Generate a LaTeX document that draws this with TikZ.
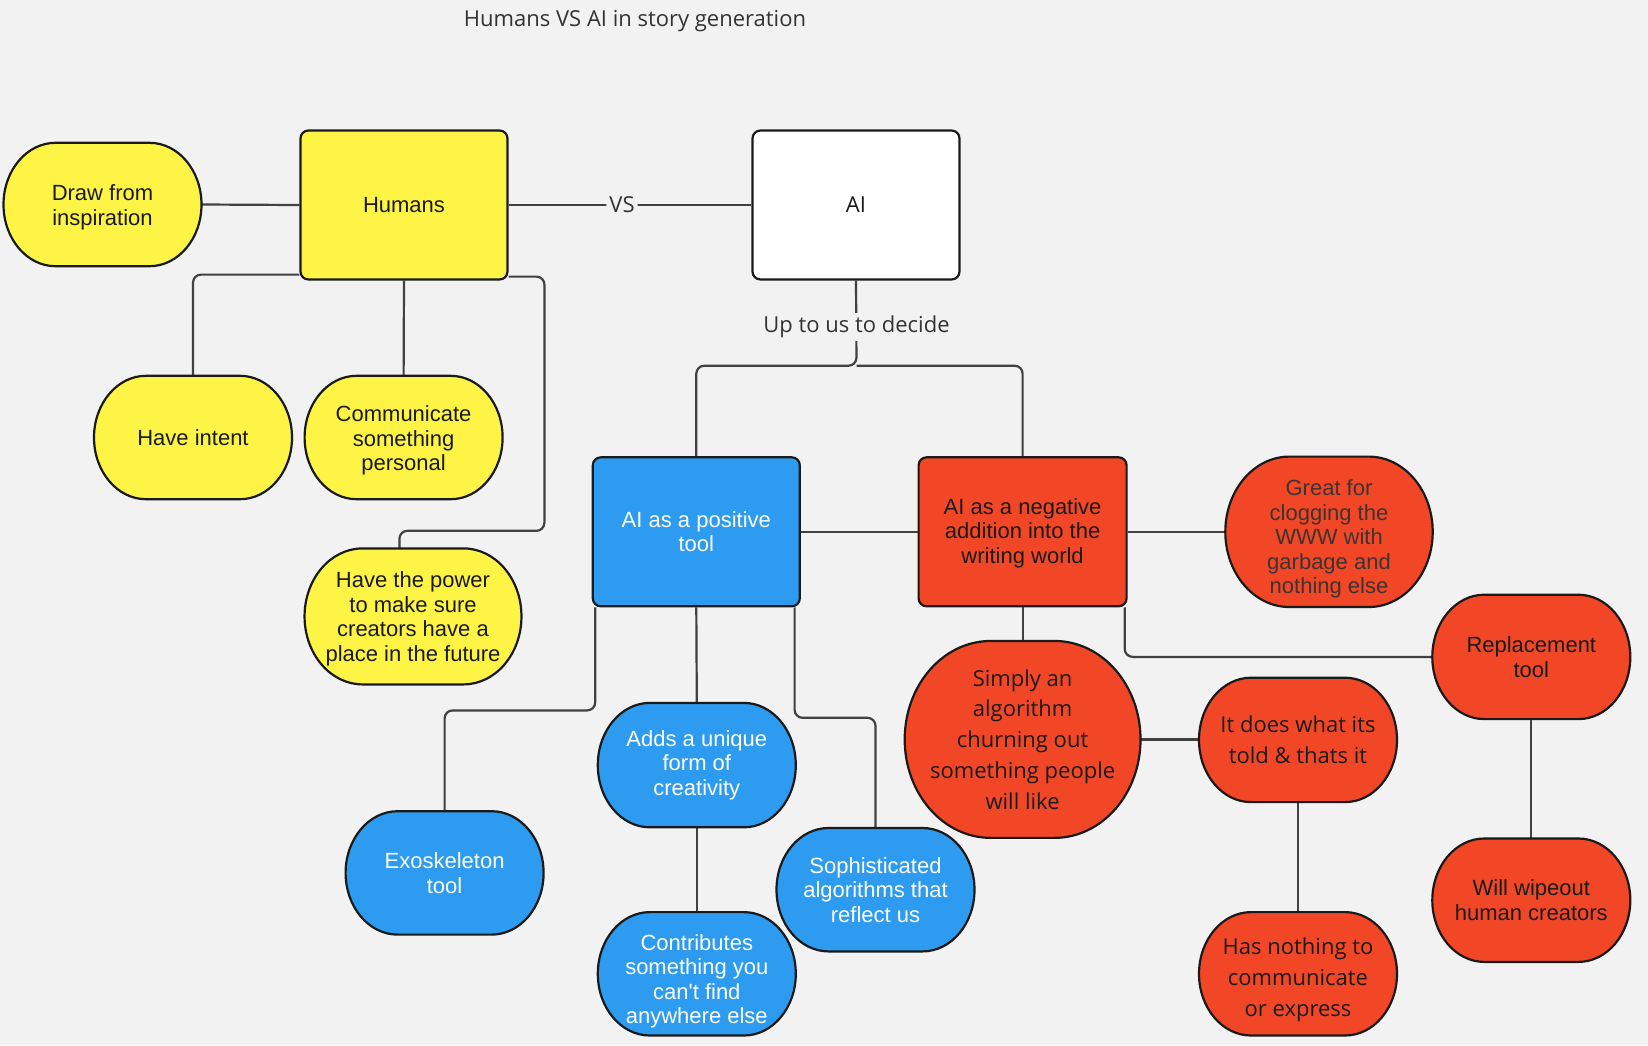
\documentclass[tikz,border=0pt]{standalone}
\usepackage{fontspec}
\newfontfamily\arialf{Liberation Sans}
\newfontfamily\osf{Open Sans}
\usetikzlibrary{calc}
\pgfdeclarelayer{bglayer}
\pgfdeclarelayer{lines}
\pgfdeclarelayer{shapes}
\pgfsetlayers{bglayer,lines,shapes,main}
\definecolor{bgc}{HTML}{F2F2F2}
\definecolor{yel}{HTML}{FEF445}
\definecolor{blu}{HTML}{2D9BF0}
\definecolor{redn}{HTML}{F24726}
\definecolor{edgec}{HTML}{1A1A1A}
\definecolor{wirec}{HTML}{414141}
\definecolor{txtc}{HTML}{333333}
\definecolor{greytxt}{HTML}{3D3331}
% oval with half-elliptic ends: #1 node, #2 fill, #3 x radius of the ends
\newcommand\ovalshape[3]{%
\begin{pgfonlayer}{shapes}
\filldraw[fill=#2, draw=edgec, line width=2.2pt]
 ($(#1.north west)+(#3,0)$) -- ($(#1.north east)+(-#3,0)$)
 .. controls ($(#1.north east)+(-0.4477*#3,0)$) and ($(#1.east)!0.5523!(#1.north east)$) .. (#1.east)
 .. controls ($(#1.east)!0.5523!(#1.south east)$) and ($(#1.south east)+(-0.4477*#3,0)$) .. ($(#1.south east)+(-#3,0)$)
 -- ($(#1.south west)+(#3,0)$)
 .. controls ($(#1.south west)+(0.4477*#3,0)$) and ($(#1.west)!0.5523!(#1.south west)$) .. (#1.west)
 .. controls ($(#1.west)!0.5523!(#1.north west)$) and ($(#1.north west)+(0.4477*#3,0)$) .. ($(#1.north west)+(#3,0)$)
 -- cycle;
\end{pgfonlayer}}
\begin{document}
\begin{tikzpicture}[x=1pt,y=-1pt,
  base/.style={align=center, inner sep=0pt,
    font=\arialf\fontsize{22}{24.5}\selectfont, text=edgec},
  boxn/.style={base, draw=edgec, line width=2.2pt, rectangle, rounded corners=8pt, minimum width=207pt, minimum height=149pt},
  pill/.style={base, rectangle, minimum width=197.6pt, minimum height=123pt},
  bluf/.style={fill=blu, text=white},
  osn/.style={font=\osf\fontsize{22}{30.7}\selectfont},
  wire/.style={draw=wirec, line width=2.2pt, rounded corners=8pt},
  lbl/.style={fill=bgc, inner sep=3pt, font=\osf\fontsize{22}{26}\selectfont, text=txtc}
]
\useasboundingbox (0,0) rectangle (1648,1045);
\begin{pgfonlayer}{bglayer}
\fill[bgc] (0,0) rectangle (1648,1045);
\end{pgfonlayer}

% title
\node[font=\osf\fontsize{22}{26}\selectfont, text=txtc] (title) at (635,21) {Humans VS AI in story generation};

% humans side
\node[boxn, fill=yel] (hum) at (404,205) {Humans};
\node[boxn, fill=white, osn] (ai) at (856,205) {AI};
\node[pill] (draw) at (102.5,204.5) {\rule{0pt}{22pt}Draw from\\inspiration};
\node[pill] (intent) at (193,437.5) {Have intent};
\node[pill] (comm) at (403.6,437.5) {\rule{0pt}{22pt}Communicate\\something\\personal};
\node[pill, minimum width=216.5pt, minimum height=135.6pt] (power) at (413,616.4) {\rule{0pt}{20.5pt}Have the power\\to make sure\\creators have a\\place in the future};

% AI branches
\node[boxn, bluf] (pos) at (696.3,531.8) {AI as a positive\\tool};
\node[boxn, fill=redn, minimum width=208pt] (neg) at (1022.6,531.8) {\rule{0pt}{18pt}AI as a negative\\addition into the\\writing world};
\node[pill, minimum width=207pt, minimum height=150pt, text=greytxt] (great) at (1329,531.8) {\rule{0pt}{30pt}Great for\\clogging the\\WWW with\\garbage and\\nothing else};
\node[pill, minimum height=124pt] (rep) at (1531.3,656.9) {Replacement\\tool};
\node[pill] (wipe) at (1531.3,900.2) {Will wipeout\\human creators};
\node[pill, osn, minimum width=235.4pt, minimum height=196.5pt] (simply) at (1022.6,739.4) {Simply an\\algorithm\\churning out\\something people\\will like};
\node[pill, osn, minimum height=124pt] (does) at (1298,739.9) {It does what its\\told \& thats it};
\node[pill, osn] (nothing) at (1298,973.8) {\rule{0pt}{28.5pt}Has nothing to\\communicate\\or express};

\node[pill, text=white] (exo) at (444.6,872.9) {Exoskeleton\\tool};
\node[pill, text=white, minimum height=124pt] (adds) at (696.8,765.1) {Adds a unique\\form of\\creativity};
\node[pill, text=white] (contrib) at (696.8,973.8) {\rule{0pt}{31pt}Contributes\\something you\\can't find\\anywhere else};
\node[pill, text=white] (soph) at (875.5,889.7) {Sophisticated\\algorithms that\\reflect us};

% oval outlines
\ovalshape{draw}{yel}{52}
\ovalshape{intent}{yel}{52}
\ovalshape{comm}{yel}{52}
\ovalshape{power}{yel}{58}
\ovalshape{great}{redn}{64}
\ovalshape{rep}{redn}{52}
\ovalshape{wipe}{redn}{52}
\ovalshape{simply}{redn}{86}
\ovalshape{does}{redn}{52}
\ovalshape{nothing}{redn}{52}
\ovalshape{exo}{blu}{52}
\ovalshape{adds}{blu}{52}
\ovalshape{contrib}{blu}{52}
\ovalshape{soph}{blu}{52}

\coordinate (split) at (856.5,365.7);
\coordinate (pw) at (544.4,530.8);

\begin{pgfonlayer}{lines}
\draw[wire] (draw.east) -- (hum.west);
\draw[wire] ($(hum.south west)+(0,-6)$) -| (intent.north);
\draw[wire] (hum.south) -- (comm.north);
\draw[wire] ($(hum.south east)+(0,-4)$) -| (pw) -| ($(power.north)+(-13.6,0)$);
\draw[wire] (hum.east) -- (ai.west) node[lbl, pos=0.467] (vs) {VS};
\draw[wire] (ai.south) -- (split) -| (pos.north);
\draw[wire] (split) -| (neg.north);
\draw[wire] (pos.east) -- (neg.west);
\draw[wire] (neg.east) -- (great.west);
\draw[wire] (neg.south) -- (simply.north);
\draw[wire] ($(neg.south east)+(-3,0)$) |- (rep.west);
\draw[wire] (rep.south) -- (wipe.north);
\draw[wire] (simply.east) -- (simply.east -| does.west);
\draw[wire] (does.south) -- (nothing.north);
\draw[wire] ($(pos.south west)+(3.5,0)$) -- ++(0,103) -| (exo.north);
\draw[wire] (pos.south) -- (adds.north);
\draw[wire] (adds.south) -- (contrib.north);
\draw[wire] ($(pos.south east)+(-6.3,0)$) -- ++(0,110.4) -| (soph.north);
\end{pgfonlayer}

\node[lbl] (decide) at (856.5,326.5) {Up to us to decide};
\end{tikzpicture}
\end{document}
